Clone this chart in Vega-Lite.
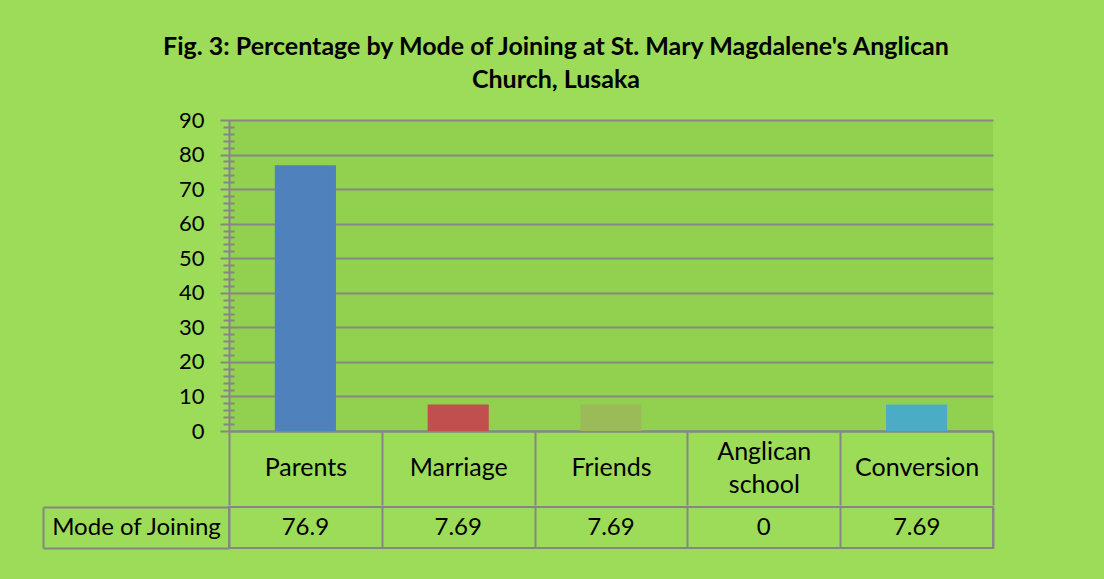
{
  "$schema": "https://vega.github.io/schema/vega-lite/v6.json",
  "background": "#9ddc58",
  "padding": {"left": 41, "top": 35, "right": 112, "bottom": 32},
  "title": {
    "text": ["Fig. 3: Percentage by Mode of Joining at St. Mary Magdalene's Anglican", "Church, Lusaka"],
    "font": "Lato",
    "fontSize": 25,
    "fontWeight": "bold",
    "color": "black",
    "lineHeight": 33,
    "anchor": "middle",
    "frame": "group",
    "dx": -55,
    "offset": 16
  },
  "config": {
    "font": "Lato",
    "axis": {"labelFont": "Lato", "labelColor": "black"}
  },
  "datasets": {
    "modes": [
      {"mode": "Parents", "pct": 76.9, "label": "76.9", "row": "Mode of Joining"},
      {"mode": "Marriage", "pct": 7.69, "label": "7.69", "row": "Mode of Joining"},
      {"mode": "Friends", "pct": 7.69, "label": "7.69", "row": "Mode of Joining"},
      {"mode": "Anglican school", "pct": 0, "label": "0", "row": "Mode of Joining"},
      {"mode": "Conversion", "pct": 7.69, "label": "7.69", "row": "Mode of Joining"}
    ]
  },
  "spacing": -12,
  "vconcat": [
    {
      "width": 764,
      "height": 311,
      "view": {"fill": "#92d050", "stroke": null},
      "layer": [
        {
          "data": {"name": "modes"},
          "mark": {"type": "bar", "width": {"band": 0.4}},
          "encoding": {
            "x": {
              "field": "mode", "type": "nominal", "sort": null,
              "scale": {"paddingInner": 0, "paddingOuter": 0},
              "axis": {
                "orient": "bottom", "title": null, "labelAngle": 0,
                "tickBand": "extent", "tickSize": 74, "tickColor": "#868686", "tickWidth": 2,
                "domain": true, "domainColor": "#868686", "domainWidth": 2,
                "labelFontSize": 25, "labelBaseline": "middle",
                "labelPadding": {"condition": {"test": "datum.value == 'Anglican school'", "value": -54}, "value": -38},
                "labelLineHeight": 33, "labelLimit": 0, "labelOverlap": false,
                "labelExpr": "datum.value == 'Anglican school' ? ['Anglican', 'school'] : datum.label"
              }
            },
            "y": {
              "field": "pct", "type": "quantitative",
              "scale": {"domain": [0, 90], "nice": false},
              "axis": {
                "title": null, "values": [0, 10, 20, 30, 40, 50, 60, 70, 80, 90],
                "grid": true, "gridColor": "#868686", "gridWidth": 2, "gridOpacity": 1,
                "domain": true, "domainColor": "#868686", "domainWidth": 2,
                "tickSize": 9, "tickColor": "#868686", "tickWidth": 2,
                "labelFontSize": 22, "labelPadding": 16
              }
            },
            "color": {
              "field": "mode", "type": "nominal", "sort": null, "legend": null,
              "scale": {
                "domain": ["Parents", "Marriage", "Friends", "Anglican school", "Conversion"],
                "range": ["#4f81bd", "#c0504d", "#9bbb59", "#8064a2", "#4bacc6"]
              }
            }
          }
        },
        {
          "data": {"values": [{"v": 2}, {"v": 4}, {"v": 6}, {"v": 8}]},
          "mark": {"type": "point", "opacity": 0},
          "encoding": {
            "y": {
              "field": "v", "type": "quantitative",
              "scale": {"domain": [0, 90], "nice": false},
              "axis": {
                "orient": "left", "title": null, "offset": -5,
                "values": [2, 4, 6, 8, 12, 14, 16, 18, 22, 24, 26, 28, 32, 34, 36, 38, 42, 44, 46, 48, 52, 54, 56, 58, 62, 64, 66, 68, 72, 74, 76, 78, 82, 84, 86, 88],
                "grid": false, "domain": false, "labels": false,
                "tickSize": 11, "tickColor": "#868686", "tickWidth": 2
              }
            }
          }
        }
      ],
      "resolve": {"scale": {"y": "independent"}, "axis": {"y": "independent"}}
    },
    {
      "width": 764,
      "height": 41,
      "view": {"stroke": "#868686", "strokeWidth": 2, "fill": null},
      "layer": [
        {
          "data": {"name": "modes"},
          "mark": {"type": "text", "font": "Lato", "fontSize": 24, "color": "black"},
          "encoding": {
            "x": {
              "field": "mode", "type": "nominal", "sort": null,
              "axis": {
                "orient": "bottom", "title": null, "grid": true, "tickBand": "extent",
                "gridColor": "#868686", "gridWidth": 2, "gridOpacity": 1,
                "labels": false, "ticks": false, "domain": false
              }
            },
            "y": {
              "field": "row", "type": "nominal",
              "axis": {
                "orient": "left", "title": null, "tickBand": "extent",
                "tickSize": 186, "tickColor": "#868686", "tickWidth": 2,
                "domain": false, "grid": false,
                "labelFontSize": 24, "labelAlign": "center", "labelBaseline": "middle",
                "labelPadding": -93, "labelLimit": 0
              }
            },
            "text": {"field": "label"}
          }
        },
        {
          "data": {"values": [{"row": "Mode of Joining"}]},
          "mark": {"type": "point", "opacity": 0},
          "encoding": {
            "y": {
              "field": "row", "type": "nominal",
              "axis": {
                "orient": "left", "title": null, "offset": 186,
                "domain": true, "domainColor": "#868686", "domainWidth": 2,
                "ticks": false, "labels": false, "grid": false
              }
            }
          }
        }
      ],
      "resolve": {"scale": {"y": "independent"}, "axis": {"y": "independent"}}
    }
  ]
}
